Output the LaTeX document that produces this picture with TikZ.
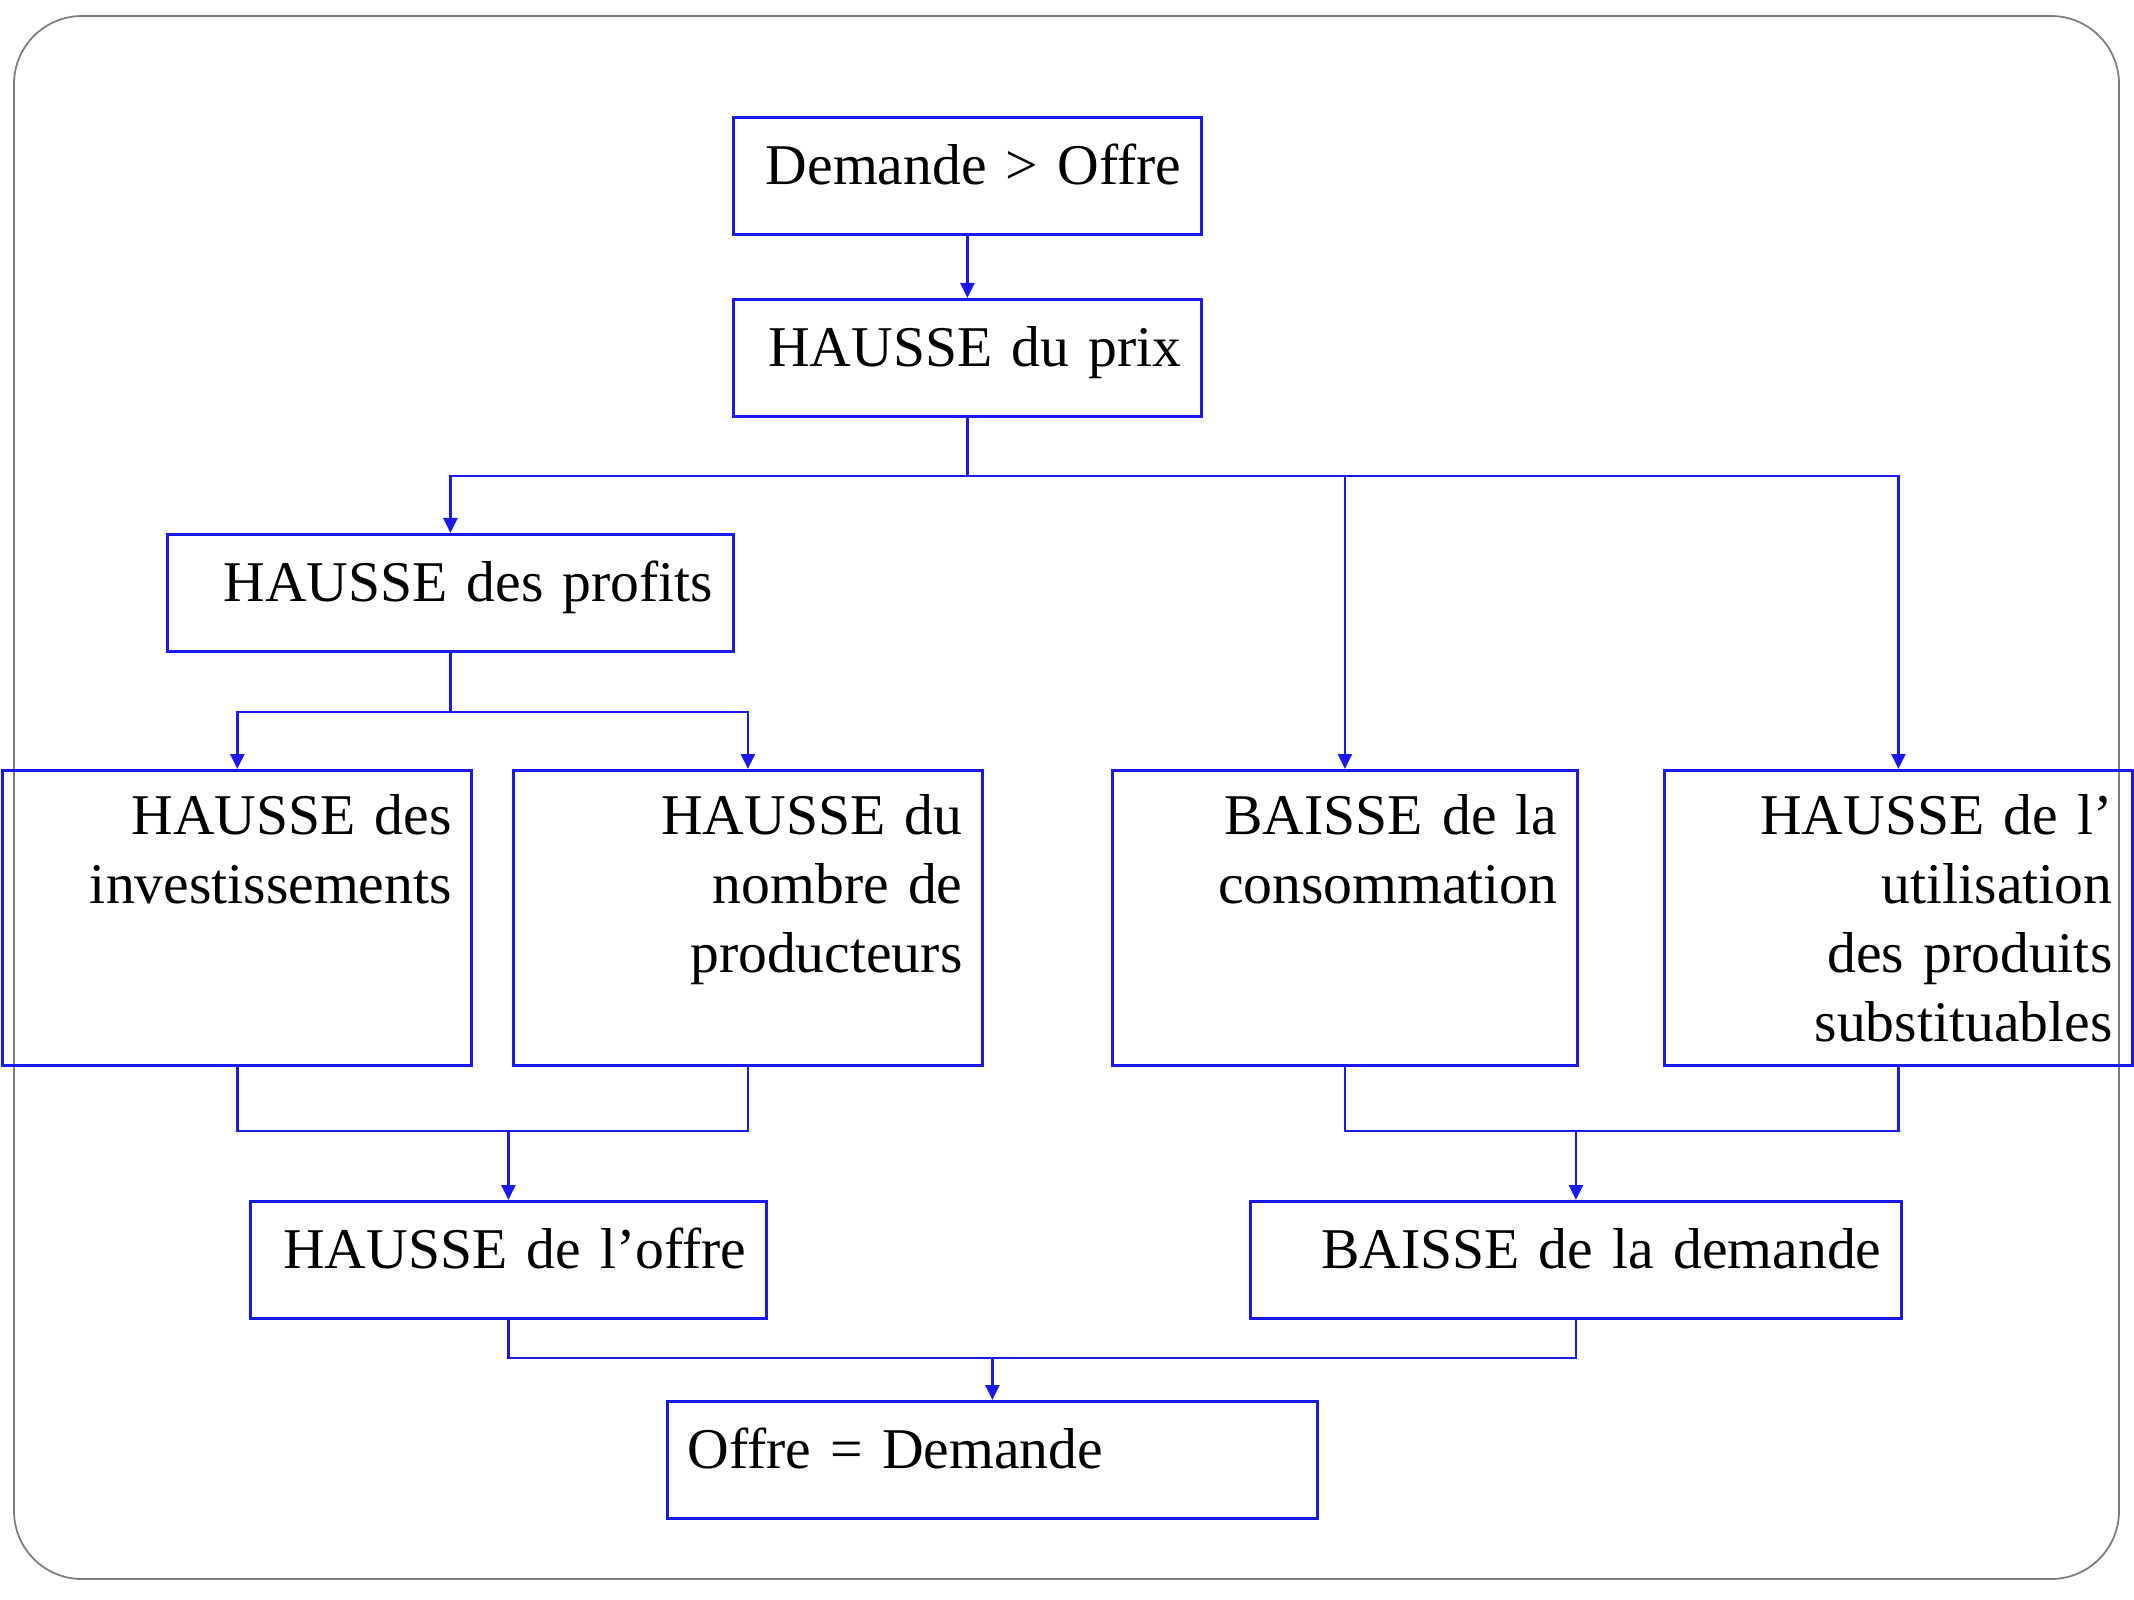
\documentclass[tikz,border=0pt]{standalone}
\usepackage{fontspec}
\setmainfont{Liberation Serif}
\definecolor{boxblue}{RGB}{25, 25, 240}
\definecolor{framegray}{RGB}{125, 125, 125}
\usepackage{tikz}
\usetikzlibrary{arrows.meta, positioning}

\tikzset{
  box/.style={draw=boxblue, line width=0.8pt, anchor=north west, inner xsep=0.2cm, inner ysep=0pt,
    align=right, text height=0.67cm, text depth=0.5cm, font=\fontsize{16.4}{19.6}\selectfont},
  tallbox/.style={box, text height=0.64cm, text depth=2.31cm},
  link/.style={draw=boxblue, line width=0.7pt},
  flow/.style={link, -{Triangle[length=0.15cm, width=0.14cm]}}
}

\begin{document}
\begin{tikzpicture}
  \useasboundingbox (0,0) rectangle (21.34,-16);

  % Frame
  \draw[framegray, line width=0.5pt, rounded corners=0.68cm] (0.14,-0.16) rectangle (21.19,-15.79);

  % Top chain
  \node[box, text width=4.28cm] (desequilibre) at (7.32,-1.16) {Demande > Offre};
  \node[box, text width=4.28cm] (prix) at (7.32,-2.98) {HAUSSE du prix};
  \node[box, text width=5.26cm] (profits) at (1.66,-5.33) {HAUSSE des profits};

  % Middle row
  \node[tallbox, text width=4.29cm] (invest) at (0.014,-7.69) {HAUSSE des\\investissements};
  \node[tallbox, text width=4.29cm] (producteurs) at (5.12,-7.69) {HAUSSE du\\nombre de\\producteurs};
  \node[tallbox, text width=4.25cm] (consommation) at (11.11,-7.69) {BAISSE de la\\consommation};
  \node[tallbox, text width=4.28cm] (substituts) at (16.63,-7.69) {HAUSSE de l’\\utilisation\\des produits\\substituables};

  % Bottom
  \node[box, text width=4.76cm] (offre) at (2.49,-12.00) {HAUSSE de l’offre};
  \node[box, text width=6.11cm] (demande) at (12.49,-12.00) {BAISSE de la demande};
  \node[box, text width=6.10cm, align=left] (equilibre) at (6.66,-14.00) {Offre = Demande};

  % Junctions
  \coordinate[below=0.58cm of prix.south] (j1);
  \coordinate[below=0.59cm of profits.south] (j2);
  \coordinate[above=0.69cm of offre.north] (j3);
  \coordinate[above=0.69cm of demande.north] (j4);
  \coordinate[above=0.42cm of equilibre.north] (j5);

  % Connectors
  \draw[flow] (desequilibre.south) -- (prix.north);
  \draw[link] (prix.south) -- (j1);
  \draw[flow] (j1) -| (profits.north);
  \draw[flow] (j1) -| (consommation.north);
  \draw[flow] (j1) -| (substituts.north);
  \draw[link] (profits.south) -- (j2);
  \draw[flow] (j2) -| (invest.north);
  \draw[flow] (j2) -| (producteurs.north);
  \draw[link] (invest.south) |- (j3) -| (producteurs.south);
  \draw[flow] (j3) -- (offre.north);
  \draw[link] (consommation.south) |- (j4) -| (substituts.south);
  \draw[flow] (j4) -- (demande.north);
  \draw[link] (offre.south) |- (j5) -| (demande.south);
  \draw[flow] (j5) -- (equilibre.north);
\end{tikzpicture}
\end{document}
